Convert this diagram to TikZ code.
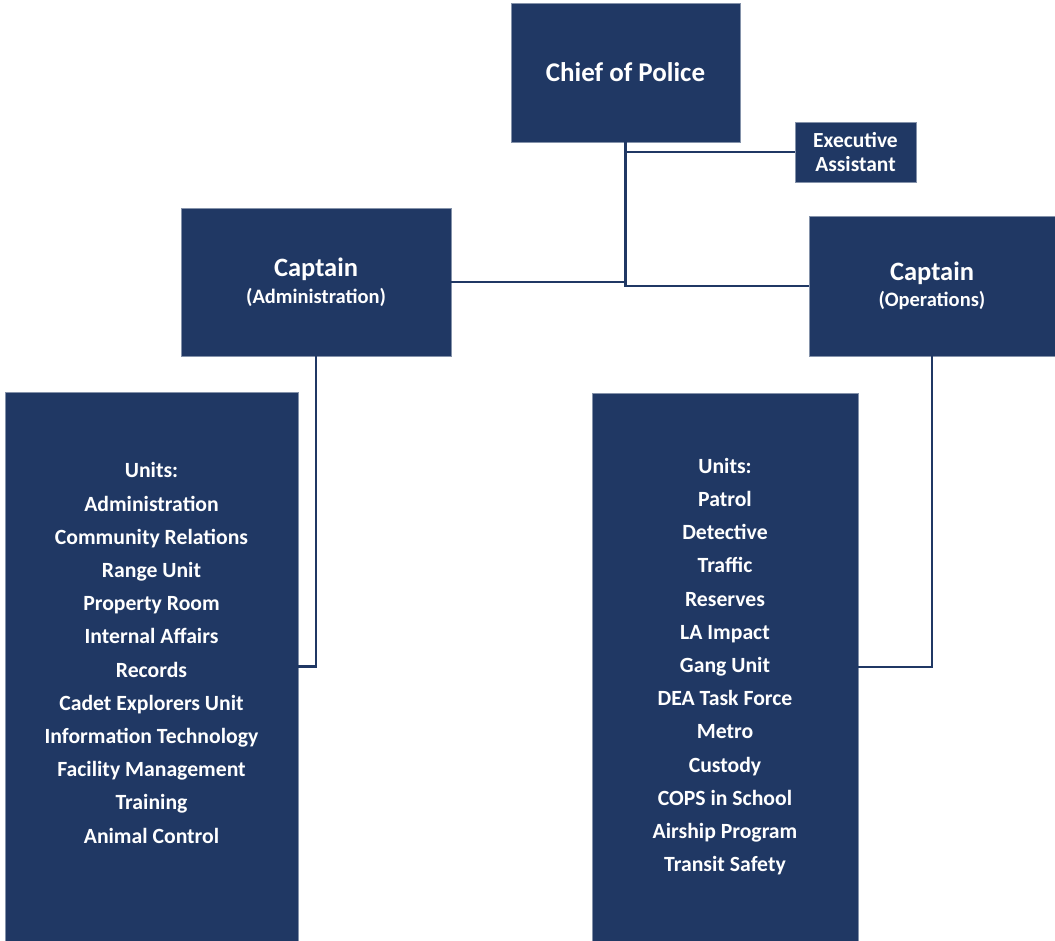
\documentclass[tikz,border=0pt]{standalone}
\usepackage{fontspec}
\setmainfont{Carlito}
\definecolor{navy}{RGB}{32,56,100}
\begin{document}
\begin{tikzpicture}[x=1pt,y=-1pt,
  box/.style={fill=navy, draw=navy!55!white, line width=0.6pt, inner sep=0pt,
    text=white, align=center},
  unitlist/.style={text=white, align=center, inner sep=0pt,
    font=\bfseries\fontsize{21.7}{33.2}\selectfont},
  link/.style={draw=navy, line width=2.8pt}]
\useasboundingbox (0,0) rectangle (1055,941);

% chief and executive assistant
\node[box, minimum width=229pt, minimum height=139pt,
  font=\bfseries\fontsize{27}{30}\selectfont] (chief) at (625.5,72.5) {Chief of Police};
\node[box, minimum width=121pt, minimum height=60pt,
  font=\bfseries\fontsize{21.5}{24}\selectfont] (exec) at (855.5,152) {Executive\\Assistant};

% captains
\node[box, minimum width=270pt, minimum height=148pt,
  font=\bfseries\fontsize{20.5}{27}\selectfont] (admin) at (316,282)
  {{\fontsize{26.5}{27}\selectfont Captain}\\(Administration)};
\node[box, minimum width=246pt, minimum height=140pt,
  font=\bfseries\fontsize{20.5}{26}\selectfont] (ops) at (932,286)
  {{\fontsize{26.5}{26}\selectfont Captain}\\(Operations)};

% unit boxes
\node[box, minimum width=293pt, minimum height=549pt] (lunits) at (151.5,666.5) {};
\node[unitlist] (ltext) at (151.5,653) {Units:\\Administration\\Community Relations\\Range Unit\\Property Room\\Internal Affairs\\Records\\Cadet Explorers Unit\\Information Technology\\Facility Management\\Training\\Animal Control};
\node[box, minimum width=266pt, minimum height=548pt] (runits) at (725,667) {};
\node[unitlist] (rtext) at (725,666.5) {Units:\\Patrol\\Detective\\Traffic\\Reserves\\LA Impact\\Gang Unit\\DEA Task Force\\Metro\\Custody\\COPS in School\\Airship Program\\Transit Safety};

% reporting lines
\draw[link] (chief.south) |- (ops.west);
\draw[link] (exec.west) -- (exec.west -| chief.south);
\draw[link] (admin.east) -- (admin.east -| chief.south);
\draw[link] (admin.south) |- (lunits.east);
\draw[link] (ops.south) |- (runits.east);
\end{tikzpicture}
\end{document}
